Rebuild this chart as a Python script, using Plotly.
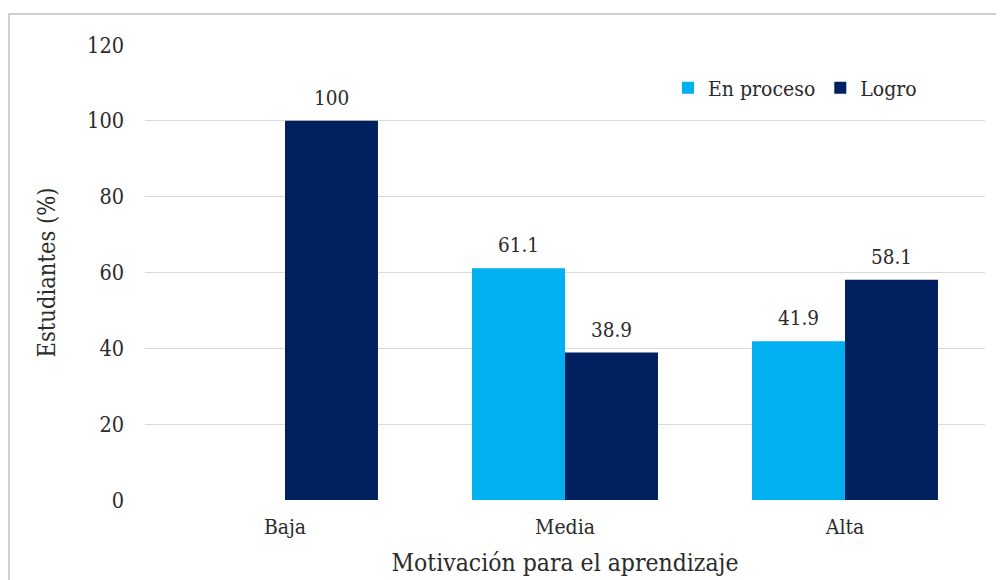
import plotly.graph_objects as go

categories = ["Baja", "Media", "Alta"]
en_proceso = [None, 61.1, 41.9]
logro = [100, 38.9, 58.1]
series_names = ["En proceso", "Logro"]
colors = ["#00B0F0", "#002060"]
y_ticks = [0, 20, 40, 60, 80, 100, 120]

font = "DejaVu Serif Condensed, DejaVu Serif, serif"
txt_col = "#2b2b2b"

L, R, T, B = 137, 27, 37, 88
W, H = 1004, 580
plot_w = W - L - R
plot_h = H - T - B
bargap = 0.336
bar_px = plot_w / len(categories) * (1 - bargap) / 2

fig = go.Figure()
annotations = []
for i, (name, vals, col) in enumerate(zip(series_names, [en_proceso, logro], colors)):
    fig.add_trace(go.Bar(
        name=name, x=categories, y=vals, marker=dict(color=col, line=dict(width=0)),
    ))
    for c, v in zip(categories, vals):
        if v is None:
            continue
        annotations.append(dict(
            x=c, y=v, xref="x", yref="y", text=f"{v:g}", showarrow=False,
            xshift=(i - 0.5) * bar_px, yshift=23, yanchor="middle", xanchor="center",
            font=dict(family=font, size=20.5, color=txt_col),
        ))

fig.update_layout(
    width=W, height=H,
    margin=dict(l=L, r=R, t=T, b=B),
    paper_bgcolor="white", plot_bgcolor="white",
    barmode="group", bargap=bargap, bargroupgap=0,
    font=dict(family=font, size=21, color=txt_col),
    showlegend=True,
    legend=dict(orientation="h", x=(668 - 8 - L) / plot_w, y=(492 - 80) / plot_h,
                xanchor="left", yanchor="middle",
                font=dict(family=font, size=21, color=txt_col),
                itemwidth=30, traceorder="normal", bgcolor="rgba(0,0,0,0)"),
    xaxis=dict(
        showgrid=False, showline=False, ticks="", ticklabelstandoff=12,
        tickfont=dict(family=font, size=21, color=txt_col),
        title=dict(text="Motivación para el aprendizaje", standoff=15,
                   font=dict(family=font, size=24.5, color=txt_col)),
    ),
    yaxis=dict(
        range=[0, 120], tickvals=y_ticks, showgrid=True, gridcolor="#d9d9d9", gridwidth=1,
        zeroline=False, showline=False, ticks="", ticklabelstandoff=20,
        tickfont=dict(family=font, size=21.5, color=txt_col),
        title=dict(text="Estudiantes (%)", standoff=24,
                   font=dict(family=font, size=23.5, color=txt_col)),
    ),
    annotations=annotations,
    shapes=[dict(type="rect", xref="paper", yref="paper",
                 x0=(1 - L) / plot_w, x1=1.2, y0=-0.3, y1=(T + plot_h - 6) / plot_h,
                 line=dict(color="#d0d0d0", width=2), fillcolor="rgba(0,0,0,0)", layer="below")],
)

fig.write_html("out.html")
